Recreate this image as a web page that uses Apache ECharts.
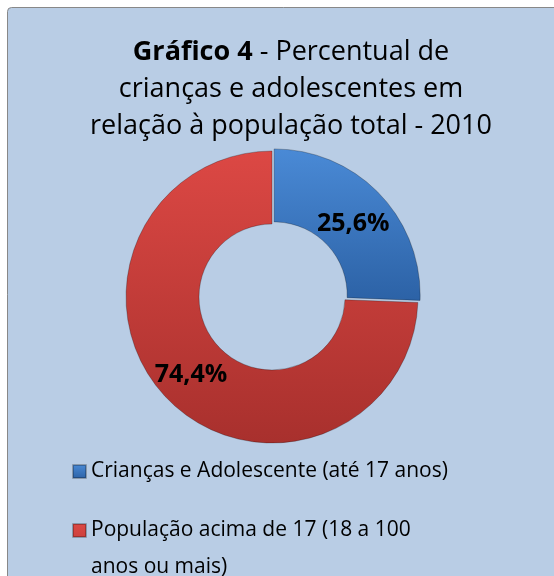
<!DOCTYPE html>
<html><head><meta charset="utf-8">
<script src="https://cdn.jsdelivr.net/npm/echarts@6/dist/echarts.min.js"></script>
<style>html,body{margin:0;padding:0;background:#fff}#c{width:554px;height:576px}</style>
</head><body><div id="c"></div>
<script>
const categories = ['Crianças e Adolescente (até 17 anos)', 'População acima de 17 (18 a 100 anos ou mais)'];
const values = [25.6, 74.4];
const valueLabels = ['25,6%', '74,4%'];
const legendNames = ['Crianças e Adolescente (até 17 anos)', 'População acima de 17 (18 a 100\nanos ou mais)'];

const FONT = 'Open Sans';
const colors = [
  new echarts.graphic.LinearGradient(0,0,0,1,[{offset:0,color:'#4a8ad6'},{offset:1,color:'#2c62a6'}]),
  new echarts.graphic.LinearGradient(0,0,0,1,[{offset:0,color:'#dc4844'},{offset:1,color:'#a8302d'}])
];
const labelShift = [[-2, 7], [0, 0]];

const chart = echarts.init(document.getElementById('c'));
chart.setOption({
  backgroundColor: '#ffffff',
  animation: false,
  graphic: [{
    type: 'rect', shape: {x: 7.5, y: 7.5, width: 560, height: 580, r: 4},
    style: {fill: '#b9cde5', stroke: '#888888', lineWidth: 1}, z: -10
  }],
  title: {
    text: '{b|Gráfico 4} - Percentual de\ncrianças e adolescentes em\nrelação à população total - 2010',
    left: 286, top: 29, textAlign: 'center',
    textStyle: {
      fontFamily: FONT, fontSize: 27, fontWeight: 'normal', color: '#000', lineHeight: 37,
      rich: {b: {fontFamily: FONT, fontSize: 27, fontWeight: 'bold', color: '#000', lineHeight: 37}}
    }
  },
  legend: [{
    data: [categories[0]],
    orient: 'vertical', left: 67, top: 456,
    itemWidth: 13, itemHeight: 13, icon: 'rect',
    textStyle: {fontFamily: FONT, fontSize: 21, color: '#000'},
    formatter: n => legendNames[categories.indexOf(n)]
  }, {
    data: [categories[1]],
    orient: 'vertical', left: 67, top: 507,
    itemWidth: 13, itemHeight: 50,
    icon: 'path://M0,0L13,0L13,13L0,13Z M13,50',
    textStyle: {fontFamily: FONT, fontSize: 21, color: '#000', lineHeight: 37},
    formatter: n => legendNames[categories.indexOf(n)]
  }],
  series: [{
    type: 'pie',
    center: [272, 297],
    radius: [73, 146],
    startAngle: 90,
    clockwise: true,
    selectedMode: 'multiple',
    selectedOffset: 3,
    avoidLabelOverlap: false,
    label: {
      show: true, position: 'inside', fontFamily: FONT, fontSize: 25, fontWeight: 'bold', color: '#000',
      formatter: p => valueLabels[p.dataIndex]
    },
    labelLayout: p => ({dx: labelShift[p.dataIndex][0], dy: labelShift[p.dataIndex][1]}),
    labelLine: {show: false},
    itemStyle: {borderColor: 'rgba(0,0,0,0.25)', borderWidth: 1},
    emphasis: {disabled: true},
    data: categories.map((c, i) => ({
      name: c, value: values[i], selected: i === 0,
      itemStyle: {color: colors[i]}
    }))
  }]
});
</script></body></html>
